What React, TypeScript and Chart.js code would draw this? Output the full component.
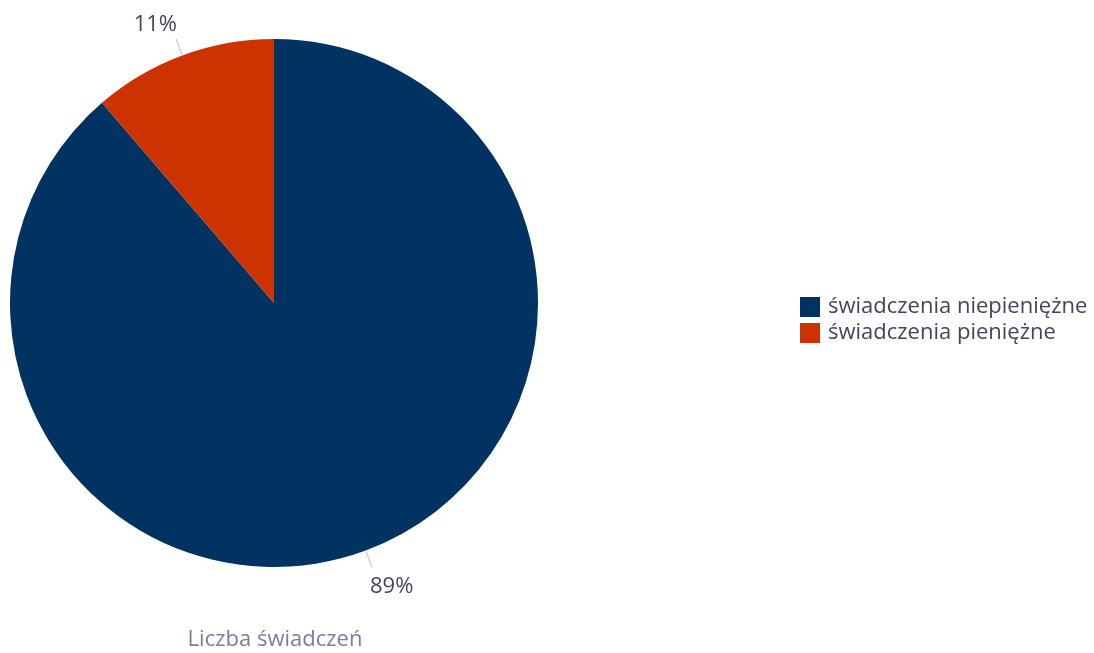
import React, { useEffect, useRef } from "react";
import { Chart, registerables } from "chart.js";

Chart.register(...registerables);

const categories = ["świadczenia niepieniężne", "świadczenia pieniężne"];
const values = [88.7, 11.3];
const colors = ["#003362", "#cc3300"];
const chartTitle = "Liczba świadczeń";

const FONT = '"Open Sans", "Noto Sans", sans-serif';
const TEXT = "#44455c";

const overlay = {
  id: "overlay",
  afterDraw(chart: any) {
    const ctx = chart.ctx;
    const meta = chart.getDatasetMeta(0);
    const total = values.reduce((a, b) => a + b, 0);
    ctx.save();
    meta.data.forEach((arc: any, i: number) => {
      const { x, y, startAngle, endAngle, outerRadius } = arc.getProps(
        ["x", "y", "startAngle", "endAngle", "outerRadius"],
        true
      );
      const mid = (startAngle + endAngle) / 2;
      const c = Math.cos(mid);
      const s = Math.sin(mid);
      const x0 = x + c * outerRadius;
      const y0 = y + s * outerRadius;
      const x1 = x + c * (outerRadius + 18);
      const y1 = y + s * (outerRadius + 18);
      ctx.strokeStyle = "#b8bccc";
      ctx.lineWidth = 1;
      ctx.beginPath();
      ctx.moveTo(x0, y0);
      ctx.lineTo(x1, y1);
      ctx.stroke();
      ctx.font = `22px ${FONT}`;
      ctx.fillStyle = TEXT;
      ctx.textBaseline = "middle";
      ctx.textAlign = c >= 0 ? "left" : "right";
      const pct = Math.round((values[i] / total) * 100) + "%";
      ctx.fillText(pct, x1 + (c >= 0 ? -2 : 1), y1 + (s >= 0 ? 19 : -14));
    });

    // legend
    ctx.textAlign = "left";
    ctx.textBaseline = "middle";
    ctx.font = `22px ${FONT}`;
    categories.forEach((cat, i) => {
      const top = 297 + i * 26;
      ctx.fillStyle = colors[i];
      ctx.fillRect(800, top, 20, 20);
      ctx.fillStyle = TEXT;
      ctx.fillText(cat, 828, top + 10);
    });

    // title
    ctx.textAlign = "center";
    ctx.fillStyle = "#7c7ca2";
    ctx.font = `22px ${FONT}`;
    ctx.fillText(chartTitle, 275, 640);
    ctx.restore();
  },
};

export default function App() {
  const ref = useRef<HTMLCanvasElement>(null);
  useEffect(() => {
    document.body.style.margin = "0";
    const chart = new Chart(ref.current!, {
      type: "pie",
      data: {
        labels: categories,
        datasets: [
          {
            data: values,
            backgroundColor: colors,
            borderWidth: 0,
          },
        ],
      },
      options: {
        animation: false,
        responsive: false,
        layout: { padding: { left: 10, top: 39, right: 556, bottom: 86 } },
        plugins: {
          legend: { display: false },
          tooltip: { enabled: false },
          title: { display: false },
        },
      },
      plugins: [overlay],
    });
    return () => chart.destroy();
  }, []);
  return (
    <div style={{ position: "fixed", left: 0, top: 0, width: 1094, height: 653, background: "#fff" }}>
      <canvas ref={ref} width={1094} height={653} style={{ width: 1094, height: 653 }} />
    </div>
  );
}
